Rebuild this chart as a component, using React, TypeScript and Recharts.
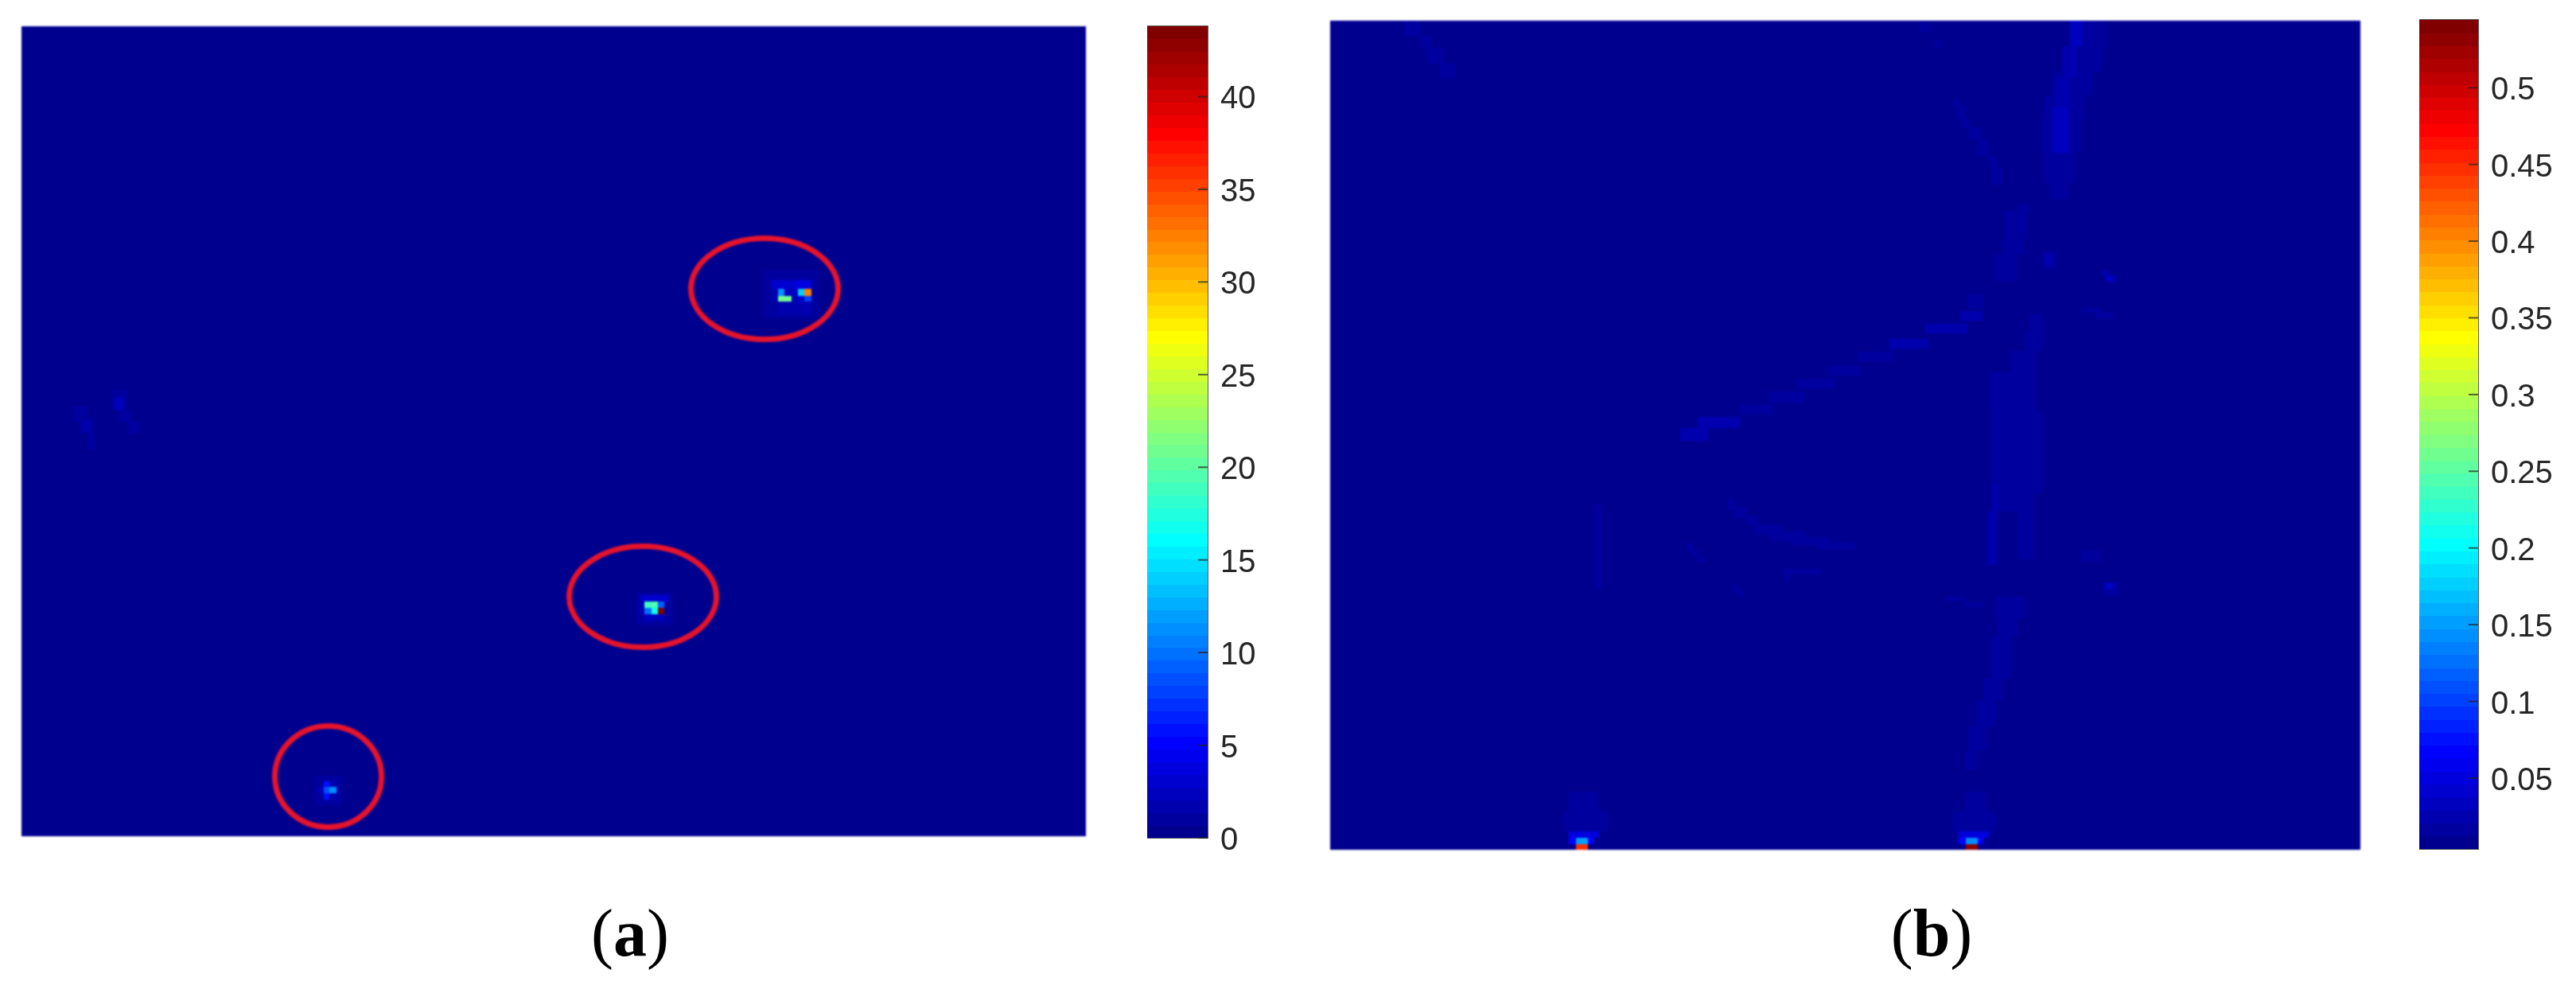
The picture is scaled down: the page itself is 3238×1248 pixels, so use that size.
import React from "react";
import { ScatterChart, Scatter, XAxis, YAxis, ReferenceArea } from "recharts";

// Every block: [x0, x1, y0, y1, value], in image samples measured from the panel's top-left corner.
type Block = [number, number, number, number, number];

const A_W = 1338, A_H = 1018, A_LO = 0, A_HI = 43.8;
const B_W = 1295, B_H = 1042, B_LO = 0.0038, B_HI = 0.5442;
const A_TICKS = [0, 5, 10, 15, 20, 25, 30, 35, 40];
const B_TICKS = [0.05, 0.1, 0.15, 0.2, 0.25, 0.3, 0.35, 0.4, 0.45, 0.5];

const aBlobs: Block[] = [
  [113, 133, 457, 482, 1], [123, 138, 482, 497, 1], [133, 148, 497, 512, 0.8], [118, 128, 466, 482, 2.4],
  [65, 83, 477, 497, 0.8], [73, 91, 492, 512, 1], [77, 87, 497, 509, 1.7], [83, 93, 512, 532, 0.8],
];
const aSpot1: Block[] = [
  [933, 1003, 307, 367, 1], [951, 993, 346, 362, 1.7], [943, 951, 330, 346, 1.7], [943, 993, 319, 330, 3.1],
  [973, 993, 319, 330, 3.7], [959, 968, 330, 339, 2.4], [968, 976, 330, 346, 2.4], [976, 984, 339, 346, 3.1],
  [951, 959, 330, 339, 11], [951, 968, 339, 346, 20.8], [976, 984, 330, 339, 14], [984, 993, 330, 339, 32.3],
  [984, 993, 339, 346, 7.8],
];
const aSpot2: Block[] = [
  [773, 818, 712, 752, 1], [778, 813, 715, 723, 3.1], [783, 808, 739, 747, 2.4], [777, 783, 723, 738, 1.7],
  [783, 792, 723, 731, 18.7], [792, 800, 723, 731, 19.8], [800, 808, 723, 731, 9],
  [783, 792, 731, 739, 9.9], [792, 800, 731, 739, 16.7], [800, 808, 731, 739, 43.3],
];
const aSpot3: Block[] = [
  [368, 403, 942, 979, 1], [373, 380, 956, 964, 2.4], [380, 387, 949, 956, 5.5], [380, 387, 964, 972, 5.5],
  [387, 396, 949, 956, 1.7], [387, 396, 964, 972, 1.7], [380, 387, 956, 964, 8.5], [387, 396, 956, 964, 11],
];
// centre x, centre y, radius x, radius y
const aRings = [
  { x: 934, y: 330, rx: 92.5, ry: 63.5 },
  { x: 781, y: 717, rx: 92.5, ry: 63.5 },
  { x: 385.5, y: 943, rx: 67, ry: 63.5 },
];

const bStreakA: Block[] = [
  [928, 975, 0, 34, 0.016], [920, 970, 34, 64, 0.016], [908, 958, 64, 94, 0.016], [898, 948, 94, 124, 0.016],
  [894, 943, 124, 164, 0.016], [897, 936, 164, 204, 0.016], [906, 928, 204, 224, 0.016],
  [946, 975, 0, 32, 0.02], [930, 946, 0, 32, 0.033], [921, 938, 32, 71, 0.025], [912, 930, 71, 109, 0.025],
  [908, 928, 109, 166, 0.033], [904, 922, 166, 204, 0.02],
];
const bStreakB: Block[] = [
  [783, 791, 99, 107, 0.016], [788, 798, 107, 122, 0.016], [793, 803, 122, 134, 0.016], [803, 818, 134, 149, 0.016],
  [813, 828, 149, 169, 0.016], [828, 838, 169, 184, 0.016], [831, 845, 184, 206, 0.016],
  [741, 753, 2, 14, 0.016], [760, 768, 24, 34, 0.016],
];
const bStreakC: Block[] = [
  [864, 879, 231, 239, 0.016], [848, 876, 239, 274, 0.016], [846, 872, 274, 294, 0.016], [836, 863, 294, 327, 0.02],
  [896, 912, 289, 312, 0.016], [898, 908, 294, 306, 0.025], [971, 978, 314, 321, 0.025], [978, 991, 319, 329, 0.016],
  [975, 984, 321, 327, 0.042], [944, 970, 361, 367, 0.016], [963, 984, 367, 374, 0.016],
];
const bStreakD: Block[] = [
  [440, 475, 512, 528, 0.025], [462, 515, 498, 512, 0.025], [515, 556, 483, 495, 0.016], [551, 596, 466, 480, 0.016],
  [587, 636, 450, 462, 0.016], [627, 667, 434, 446, 0.016], [663, 707, 416, 428, 0.02], [703, 752, 400, 412, 0.025],
  [748, 801, 381, 393, 0.025], [792, 821, 365, 377, 0.025], [801, 821, 344, 361, 0.016],
];
const bStreakE: Block[] = [
  [879, 895, 369, 392, 0.016], [873, 895, 392, 415, 0.016], [855, 888, 415, 442, 0.016], [830, 888, 442, 491, 0.016],
  [875, 884, 442, 491, 0.02], [832, 895, 491, 594, 0.016], [839, 853, 491, 551, 0.02], [832, 886, 551, 617, 0.016],
  [832, 840, 584, 617, 0.025], [826, 838, 617, 684, 0.025], [864, 886, 617, 677, 0.016], [867, 877, 617, 677, 0.02],
];
const bStreakF: Block[] = [
  [500, 508, 601, 614, 0.016], [508, 523, 611, 624, 0.016], [523, 538, 622, 634, 0.016], [533, 568, 634, 646, 0.016],
  [553, 598, 642, 654, 0.02], [578, 628, 649, 659, 0.02], [613, 660, 656, 664, 0.016],
  [333, 341, 607, 714, 0.016], [448, 456, 657, 666, 0.016], [456, 463, 666, 674, 0.016], [463, 471, 674, 681, 0.016],
  [571, 618, 689, 696, 0.016], [571, 578, 696, 704, 0.016], [506, 513, 709, 719, 0.016], [513, 520, 716, 724, 0.016],
  [774, 799, 724, 729, 0.016], [799, 821, 731, 737, 0.016], [944, 968, 666, 679, 0.016],
  [971, 991, 706, 722, 0.016], [975, 984, 707, 714, 0.042],
];
const bStreakG: Block[] = [
  [837, 873, 724, 751, 0.016], [839, 864, 751, 774, 0.016], [832, 857, 774, 827, 0.016], [821, 846, 827, 854, 0.016],
  [812, 837, 854, 887, 0.016], [803, 826, 887, 917, 0.016], [799, 812, 917, 942, 0.016],
];
const bStreakTop: Block[] = [
  [93, 113, 0, 19, 0.016], [113, 128, 19, 34, 0.016], [123, 143, 34, 54, 0.016], [138, 158, 54, 72, 0.016],
];
const bSpotRight: Block[] = [
  [799, 826, 969, 994, 0.016], [783, 837, 994, 1019, 0.02], [790, 828, 1019, 1027, 0.05],
  [790, 821, 1027, 1035, 0.067], [799, 814, 1027, 1035, 0.14], [799, 814, 1035, 1042, 0.53],
];
const bSpotLeft: Block[] = [
  [300, 337, 969, 994, 0.016], [293, 348, 994, 1019, 0.02], [300, 338, 1019, 1027, 0.05],
  [300, 331, 1027, 1035, 0.067], [309, 324, 1027, 1035, 0.15], [309, 324, 1035, 1042, 0.45],
];

const FONT = "'Liberation Sans', Arial, sans-serif";
const clamp = (n: number) => Math.max(0, Math.min(1, n));
function jet(level: number) {
  const t = (level + 1) / 64;
  const c = (k: number) => Math.round(255 * clamp(1.5 - Math.abs(4 * t - k)));
  return `rgb(${c(3)},${c(2)},${c(1)})`;
}
const levelOf = (v: number, lo: number, hi: number) =>
  Math.max(0, Math.min(63, Math.floor(((v - lo) / (hi - lo)) * 64)));

function HeatPanel({ left, top, w, h, lo, hi, blocks, rings }: {
  left: number; top: number; w: number; h: number; lo: number; hi: number; blocks: Block[];
  rings?: { x: number; y: number; rx: number; ry: number }[];
}) {
  const rows = [[0, w, 0, h, lo] as Block, ...blocks].map(([x0, x1, y0, y1, v]) => ({
    x: (x0 + x1) / 2, y: (y0 + y1) / 2, w: x1 - x0, h: y1 - y0, v,
  }));
  return (
    <div style={{ position: "absolute", left, top, width: w, height: h, filter: "blur(1px)" }}>
      <ScatterChart width={w} height={h} margin={{ top: 0, right: 0, bottom: 0, left: 0 }}>
        <XAxis type="number" dataKey="x" domain={[0, w]} hide />
        <YAxis type="number" dataKey="y" domain={[0, h]} reversed hide />
        <Scatter
          data={rows}
          isAnimationActive={false}
          shape={(p: any) => (
            <rect
              x={p.cx - p.payload.w / 2}
              y={p.cy - p.payload.h / 2}
              width={p.payload.w}
              height={p.payload.h}
              fill={jet(levelOf(p.payload.v, lo, hi))}
              shapeRendering="crispEdges"
            />
          )}
        />
        {rings && (
          <Scatter
            data={rings}
            isAnimationActive={false}
            shape={(p: any) => (
              <ellipse cx={p.cx} cy={p.cy} rx={p.payload.rx} ry={p.payload.ry} fill="none" stroke="#e6132b" strokeWidth={7} />
            )}
          />
        )}
      </ScatterChart>
    </div>
  );
}

function ColorBar({ left, top, barW, h, lo, hi, ticks }: {
  left: number; top: number; barW: number; h: number; lo: number; hi: number; ticks: number[];
}) {
  const step = (hi - lo) / 64;
  const levels = Array.from({ length: 64 }, (_, i) => ({ x: 0.5, y: lo + (i + 0.5) * step, level: i }));
  const axisW = 110;
  const pad = 40;
  return (
    <div style={{ position: "absolute", left, top: top - pad, filter: "blur(0.5px)" }}>
      <ScatterChart width={barW + axisW} height={h + 2 * pad} margin={{ top: pad, right: 0, bottom: pad, left: 0 }}>
        <XAxis type="number" dataKey="x" domain={[0, 1]} hide />
        <YAxis
          type="number"
          dataKey="y"
          orientation="right"
          width={axisW}
          domain={[lo, hi]}
          ticks={ticks}
          interval={0}
          allowDataOverflow
          axisLine={false}
          tickLine={false}
          tickSize={0}
          tickMargin={0}
          tick={(p: any) => (
            <g>
              <line x1={p.x - 12} x2={p.x} y1={p.y} y2={p.y} stroke="#222" strokeOpacity={0.7} strokeWidth={2} />
              <text x={p.x + 16} y={p.y + 15} fontFamily={FONT} fontSize={40} fill="#262626">
                {p.payload.value}
              </text>
            </g>
          )}
        />
        <Scatter
          data={levels}
          isAnimationActive={false}
          shape={(p: any) => (
            <rect
              x={p.cx - barW / 2}
              y={p.cy - h / 128}
              width={barW}
              height={h / 64 + 0.5}
              fill={jet(p.payload.level)}
              shapeRendering="crispEdges"
            />
          )}
        />
        <ReferenceArea x1={0} x2={1} y1={lo} y2={hi} fill="none" stroke="#333" strokeOpacity={0.8} strokeWidth={2} ifOverflow="visible" />
      </ScatterChart>
    </div>
  );
}

export default function App() {
  return (
    <div style={{ position: "absolute", left: 0, top: 0, width: 3238, height: 1248, background: "#fff", overflow: "hidden" }}>
      <HeatPanel left={27} top={33} w={A_W} h={A_H} lo={A_LO} hi={A_HI}
        blocks={[...aBlobs, ...aSpot1, ...aSpot2, ...aSpot3]} rings={aRings} />
      <ColorBar left={1442} top={33} barW={76} h={1020} lo={A_LO} hi={A_HI} ticks={A_TICKS} />
      <HeatPanel left={1672} top={26} w={B_W} h={B_H} lo={B_LO} hi={B_HI}
        blocks={[...bStreakTop, ...bStreakA, ...bStreakB, ...bStreakC, ...bStreakD, ...bStreakE, ...bStreakF, ...bStreakG, ...bSpotLeft, ...bSpotRight]} />
      <ColorBar left={3041} top={25} barW={74} h={1042} lo={B_LO} hi={B_HI} ticks={B_TICKS} />
      <svg width={3238} height={1248} style={{ position: "absolute", left: 0, top: 0, pointerEvents: "none" }}>
        <text x={792} y={1201} textAnchor="middle" fontFamily="'Liberation Serif', serif" fontSize={84} fill="#000">
          (<tspan fontWeight="bold">a</tspan>)
        </text>
        <text x={2428} y={1201} textAnchor="middle" fontFamily="'Liberation Serif', serif" fontSize={84} fill="#000">
          (<tspan fontWeight="bold">b</tspan>)
        </text>
      </svg>
    </div>
  );
}
